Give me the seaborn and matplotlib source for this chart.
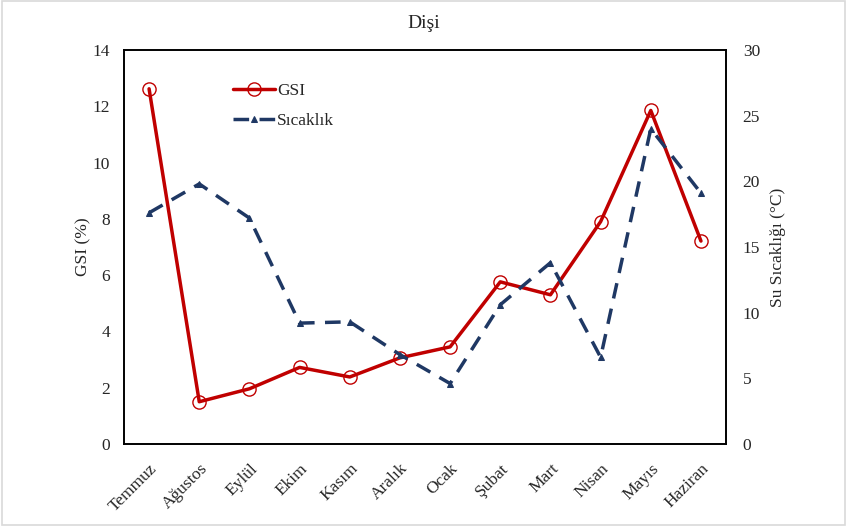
import matplotlib
matplotlib.use("Agg")
import matplotlib.pyplot as plt
import seaborn as sns
import pandas as pd
from matplotlib.patches import Rectangle

months = ["Temmuz", "Ağustos", "Eylül", "Ekim", "Kasım", "Aralık",
          "Ocak", "Şubat", "Mart", "Nisan", "Mayıs", "Haziran"]
gsi = [12.62, 1.50, 1.96, 2.72, 2.38, 3.06, 3.45, 5.76, 5.30, 7.90, 11.85, 7.21]
temp = [17.6, 19.8, 17.2, 9.2, 9.3, 6.8, 4.6, 10.6, 13.8, 6.6, 24.0, 19.1]
gsi_ticks = [0, 2, 4, 6, 8, 10, 12, 14]
temp_ticks = [0, 5, 10, 15, 20, 25, 30]

sns.set_theme(style="white")
plt.rcParams['font.family'] = ['Liberation Serif', 'DejaVu Serif']

df = pd.DataFrame({"Ay": months, "GSI": gsi, "Sıcaklık": temp})

fig = plt.figure(figsize=(8.47, 5.26), dpi=100)
ax = fig.add_axes([0.1464, 0.156, 0.7108, 0.749])
ax2 = ax.twinx()

red = "#C00000"
navy = "#1F3864"

sns.lineplot(data=df, x="Ay", y="GSI", ax=ax, sort=False, color=red, lw=2.5,
             marker="o", markersize=9.5, markerfacecolor="none",
             markeredgecolor=red, markeredgewidth=1.0, label="GSI", legend=False)
sns.lineplot(data=df, x="Ay", y="Sıcaklık", ax=ax2, sort=False, color=navy, lw=2.5,
             linestyle=(0, (4.5, 3)), marker="^", markersize=5,
             markerfacecolor=navy, markeredgecolor=navy, label="Sıcaklık", legend=False)

ax.set_xlim(-0.5, 11.5)
ax.set_ylim(0, 14)
ax2.set_ylim(0, 30)
ax.set_yticks(gsi_ticks)
ax2.set_yticks(temp_ticks)
ax.set_xticks(range(len(months)))
ax.set_xticklabels(months, rotation=45, ha="right", rotation_mode="anchor", fontsize=12.5)
ax.tick_params(axis="y", labelsize=12.5, length=0, pad=10)
ax2.tick_params(axis="y", labelsize=12.5, length=0, pad=12)
ax.tick_params(axis="x", length=0, pad=12)
ax.set_xlabel("")
ax.set_ylabel("GSI (%)", fontsize=12.5, labelpad=1)
ax2.set_ylabel("Su Sıcaklığı (°C)", fontsize=12.5, labelpad=7)
ax.grid(False)
ax2.grid(False)
for a in (ax, ax2):
    for s in a.spines.values():
        s.set_color("black")
        s.set_linewidth(1.2)

h1, l1 = ax.get_legend_handles_labels()
h2, l2 = ax2.get_legend_handles_labels()
ax.legend(h1 + h2, l1 + l2, loc="upper left", bbox_to_anchor=(0.155, 0.955),
          frameon=False, fontsize=12.5, handlelength=2.4, handletextpad=0.15,
          labelspacing=0.75)

fig.text(0.5, 0.955, "Dişi", ha="center", va="center", fontsize=14)
fig.patches.append(Rectangle((0.002, 0.002), 0.996, 0.996, transform=fig.transFigure,
                             fill=False, edgecolor="#D9D9D9", lw=1.2))

fig.savefig("out.png", dpi=100)
